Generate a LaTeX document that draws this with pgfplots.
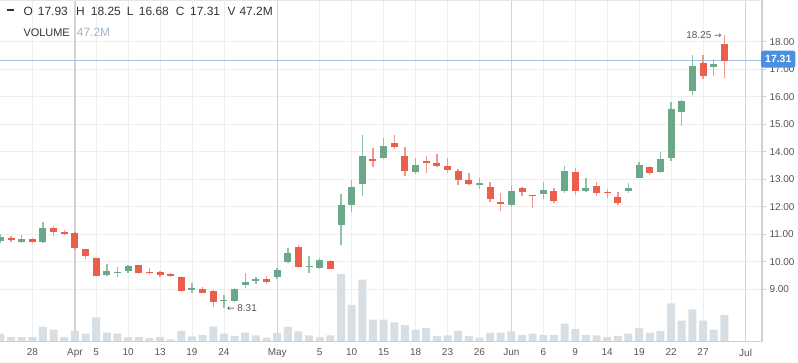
\documentclass[border=0pt]{standalone}
\usepackage{pgfplots}
\pgfplotsset{compat=1.18}
\usepackage{pgfplotstable}
\usepackage{fontspec}
\setmainfont{Liberation Sans}
\newfontfamily\dejavu{DejaVu Sans}
\definecolor{upc}{RGB}{107,168,137}
\definecolor{dnc}{RGB}{234,94,76}
\definecolor{upw}{RGB}{140,196,166}
\definecolor{dnw}{RGB}{241,152,142}
\definecolor{volc}{RGB}{215,222,228}
\definecolor{gridc}{RGB}{238,238,238}
\definecolor{monthc}{RGB}{212,212,212}
\definecolor{axc}{RGB}{200,210,218}
\definecolor{txt}{RGB}{85,85,85}
\definecolor{hdr}{RGB}{51,51,51}
\definecolor{volt}{RGB}{160,180,200}
\definecolor{tagc}{RGB}{74,144,226}
\definecolor{linec}{RGB}{160,196,234}

\pgfplotstableread{
i O H L C
-3 10.75 11.00 10.70 10.90
-1 10.73 10.96 10.67 10.82
1 10.72 11.44 10.68 11.22
7 9.53 9.93 9.47 9.65
8 9.61 9.80 9.43 9.64
9 9.65 9.90 9.61 9.86
15 8.96 9.23 8.88 9.03
18 8.58 8.79 8.31 8.62
19 8.58 9.05 8.55 9.02
20 9.16 9.59 9.04 9.26
21 9.31 9.45 9.20 9.38
23 9.45 9.78 9.39 9.69
24 9.99 10.49 9.96 10.32
26 9.80 10.20 9.59 9.85
27 9.78 10.12 9.74 10.08
29 11.35 12.47 10.60 12.08
30 12.08 12.96 11.82 12.72
31 12.84 14.61 12.39 13.84
33 13.79 14.50 13.75 14.20
36 13.28 13.77 13.19 13.52
42 12.80 13.03 12.65 12.86
45 12.08 12.75 12.00 12.59
48 12.47 12.91 12.30 12.61
50 12.57 13.48 12.51 13.29
52 12.57 13.03 12.55 12.67
56 12.57 12.86 12.50 12.67
57 13.06 13.64 13.03 13.52
59 13.28 13.99 13.24 13.73
60 13.79 15.80 13.66 15.55
61 15.43 15.88 14.94 15.86
62 16.22 17.50 16.07 17.13
64 17.07 17.38 16.77 17.19
}\up

\pgfplotstableread{
i O H L C
-2 10.85 10.93 10.72 10.79
0 10.82 10.85 10.68 10.72
2 11.22 11.31 10.95 11.10
3 11.07 11.14 10.97 11.02
4 11.04 11.08 10.43 10.49
5 10.45 10.47 10.09 10.21
6 10.12 10.14 9.47 9.50
10 9.87 9.89 9.57 9.59
11 9.63 9.76 9.54 9.58
12 9.62 9.66 9.45 9.53
13 9.54 9.61 9.44 9.48
14 9.45 9.48 8.91 8.95
16 9.01 9.07 8.86 8.88
17 8.93 8.97 8.37 8.53
22 9.39 9.50 9.21 9.26
25 10.53 10.60 9.77 9.81
28 10.04 10.06 9.73 9.74
32 13.74 14.13 13.45 13.67
34 14.33 14.60 14.10 14.16
35 13.84 14.18 13.12 13.30
37 13.66 13.84 13.24 13.58
38 13.58 13.91 13.45 13.49
39 13.48 13.79 13.22 13.34
40 13.29 13.36 12.80 12.99
41 12.96 13.24 12.79 12.82
43 12.73 12.90 12.17 12.29
44 12.19 12.51 11.84 12.11
46 12.69 12.72 12.40 12.55
47 12.42 12.43 11.97 12.38
49 12.57 12.67 12.12 12.20
51 13.26 13.40 12.42 12.57
53 12.75 12.91 12.39 12.51
54 12.54 12.64 12.33 12.51
55 12.35 12.54 12.05 12.15
58 13.45 13.48 13.17 13.21
63 17.23 17.50 16.63 16.74
65 17.93 18.25 16.68 17.31
}\down

\pgfplotstableread{
i V
-3 14
-2 8
-1 8
0 8
1 26
2 21
3 8
4 19
5 14
6 43
7 16
8 14
9 8
10 8
11 6
12 8
13 4
14 19
15 9
16 11.5
17 27
18 14
19 10
20 16
21 11
22 7
23 15
24 26
25 18
26 11
27 8
28 11
29 120
30 65
31 110
32 39
33 39
34 34
35 29
36 21
37 24
38 10
39 11
40 19.5
41 10
42 7
43 16
44 16
45 18
46 12
47 14
48 12
49 12
50 32
51 22
52 12
53 11
54 8
55 10
56 14
57 24
58 16
59 19
60 68
61 37
62 57
63 37
64 21
65 47.2
}\vol

\begin{document}
\begin{tikzpicture}
\useasboundingbox (0bp,-21.5bp) rectangle (798bp,341.5bp);
\pgfplotsset{base/.style={width=762bp, height=341.5bp, scale only axis, xmin=-3.034, xmax=68.54}}
% grid and ticks
\begin{axis}[base, ymin=7.103, ymax=19.516,
  axis x line*=bottom, axis y line*=right,
  axis line style={draw=axc, line width=1.2bp},
  xtick={0,4,6,9,12,15,18,23,27,30,33,36,39,42,45,48,51,54,57,60,63,67},
  xticklabels={28,Apr,5,10,13,19,24,May,5,10,15,18,23,26,Jun,6,9,14,19,22,27,Jul},
  ytick={9,10,...,18},
  xtick style={draw=none},
  ytick style={draw=axc, line width=1bp},
  tick align=outside, major tick length=4bp,
  grid=major, major grid style={draw=gridc, line width=0.8bp},
  extra x ticks={4,23,45,67}, extra x tick labels={},
  extra x tick style={grid=major, major tick length=0pt, major grid style={draw=monthc, line width=1.3bp}},
  /pgf/number format/assume math mode=true,
  yticklabel style={/pgf/number format/.cd, fixed, fixed zerofill, precision=2},
  tick label style={font=\fontsize{10}{12}\selectfont, text=txt},
]
\addplot[draw=none] coordinates {(0,10)};
\end{axis}
% volume
\begin{axis}[base, ymin=0, ymax=608, hide axis]
\addplot[ybar, bar width=8bp, fill=volc, draw=none] table[x=i, y=V] {\vol};
\end{axis}
% candles
\begin{axis}[base, ymin=7.103, ymax=19.516, hide axis]
\addplot[linec, line width=1bp] coordinates {(-3.034,17.31) (68.54,17.31)};
\addplot[draw=none, mark=none, error bars/.cd, y dir=plus, y explicit, error mark=none,
  error bar style={draw=upw, line width=1.4bp}]
  table[x=i, y=L, y error plus expr=\thisrow{H}-\thisrow{L}] {\up};
\addplot[draw=none, mark=none, error bars/.cd, y dir=plus, y explicit, error mark=none,
  error bar style={draw=dnw, line width=1.4bp}]
  table[x=i, y=L, y error plus expr=\thisrow{H}-\thisrow{L}] {\down};
\addplot[draw=none, mark=none, error bars/.cd, y dir=plus, y explicit, error mark=none,
  error bar style={draw=upc, line width=7bp}]
  table[x=i, y=O, y error plus expr=\thisrow{C}-\thisrow{O}] {\up};
\addplot[draw=none, mark=none, error bars/.cd, y dir=plus, y explicit, error mark=none,
  error bar style={draw=dnc, line width=7bp}]
  table[x=i, y=C, y error plus expr=\thisrow{O}-\thisrow{C}] {\down};
\coordinate (tag) at (axis cs:68.54,17.31);
\coordinate (hi) at (axis cs:65,18.25);
\coordinate (lo) at (axis cs:18,8.31);
\coordinate (bl) at (rel axis cs:0,0);
\coordinate (br) at (rel axis cs:1,0);
\coordinate (tl) at (rel axis cs:0,1);
\coordinate (tr) at (rel axis cs:1,1);
\end{axis}
% frame lines over the volume bars
\draw[axc, line width=1.2bp] (bl) -- (br);
\draw[gridc!70!axc, line width=0.8bp] ([yshift=-0.5bp]tl) -- ([yshift=-0.5bp]tr);
% annotations
\node[anchor=east, inner sep=0pt, xshift=-2.5bp, font=\fontsize{10}{12}\selectfont, text=txt] at (hi) {18.25 {\dejavu\fontsize{9}{10}\selectfont →}};
\node[anchor=west, inner sep=0pt, xshift=3bp, font=\fontsize{10}{12}\selectfont, text=txt] at (lo) {{\dejavu\fontsize{9}{10}\selectfont ←} 8.31};
\node[fill=tagc, text=white, font=\bfseries\fontsize{10.5}{12}\selectfont, anchor=west, inner xsep=4bp, minimum height=17bp, rounded corners=1.5bp, xshift=-1bp, yshift=1.5bp] at (tag) {17.31};
% header
\fill[hdr] (7bp,330.2bp) rectangle (13.5bp,332.6bp);
\begin{scope}[every node/.style={anchor=base west, inner sep=0pt, text=hdr, font=\fontsize{12}{14}\selectfont}]
\node at (23.3bp,325.5bp) {O};
\node at (37.7bp,325.5bp) {17.93};
\node at (76bp,325.5bp) {H};
\node at (90.7bp,325.5bp) {18.25};
\node at (126.7bp,325.5bp) {L};
\node at (138.7bp,325.5bp) {16.68};
\node at (175.7bp,325.5bp) {C};
\node at (190bp,325.5bp) {17.31};
\node at (227.3bp,325.5bp) {V};
\node at (239.3bp,325.5bp) {47.2M};
\node[font=\fontsize{11}{13}\selectfont] at (23.3bp,304.9bp) {VOLUME};
\node[text=volt] at (76.7bp,304.9bp) {47.2M};
\end{scope}
\end{tikzpicture}
\end{document}
